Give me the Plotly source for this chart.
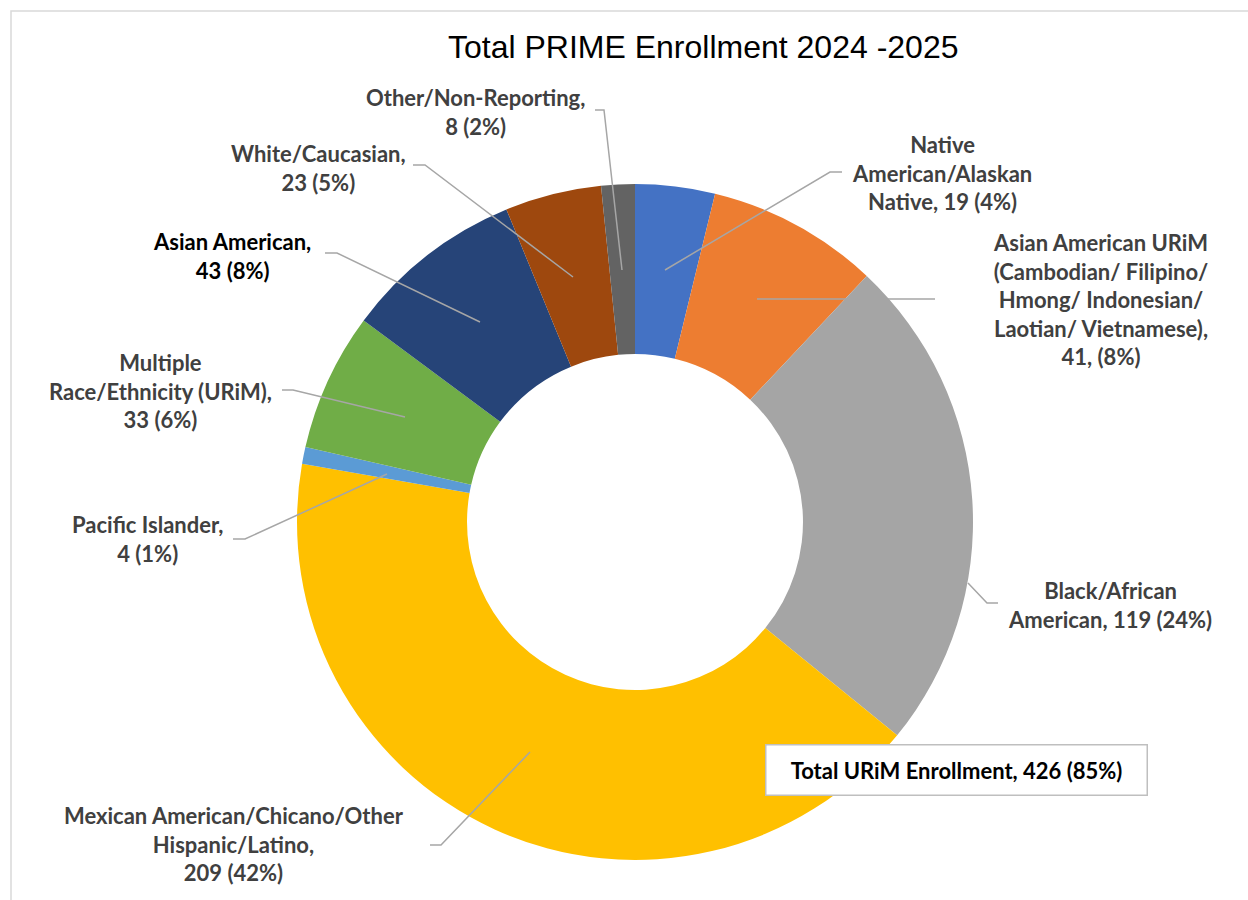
import plotly.graph_objects as go

W, H = 1248, 900

# ---- data ----
categories = [
    "Native American/Alaskan Native",
    "Asian American URiM (Cambodian/ Filipino/ Hmong/ Indonesian/ Laotian/ Vietnamese)",
    "Black/African American",
    "Mexican American/Chicano/Other Hispanic/Latino",
    "Pacific Islander",
    "Multiple Race/Ethnicity (URiM)",
    "Asian American",
    "White/Caucasian",
    "Other/Non-Reporting",
]
values = [19, 41, 119, 209, 4, 33, 43, 23, 8]
percents = [4, 8, 24, 42, 1, 6, 8, 5, 2]
label_names = [
    "Native<br>American/Alaskan<br>Native",
    "Asian American URiM<br>(Cambodian/ Filipino/<br>Hmong/ Indonesian/<br>Laotian/ Vietnamese)",
    "Black/African<br>American",
    "Mexican American/Chicano/Other<br>Hispanic/Latino",
    "Pacific Islander",
    "Multiple<br>Race/Ethnicity (URiM)",
    "Asian American",
    "White/Caucasian",
    "Other/Non-Reporting",
]
label_seps = [", ", ",<br>", ", ", ",<br>", ",<br>", ",<br>", ",<br>", ",<br>", ",<br>"]
value_formats = ["{v} ({p}%)", "{v}, ({p}%)", "{v} ({p}%)", "{v} ({p}%)", "{v} ({p}%)",
                 "{v} ({p}%)", "{v} ({p}%)", "{v} ({p}%)", "{v} ({p}%)"]
urim_total = 426
urim_pct = 85
title_text = "Total PRIME Enrollment 2024 -2025"

# ---- styles / layout ----
colors = ["#4472C4", "#ED7D31", "#A5A5A5", "#FFC000", "#5B9BD5",
          "#70AD47", "#264478", "#9E480E", "#636363"]
label_colors = ["#404040"] * 6 + ["#000000", "#404040", "#404040"]
# label block centres in pixels
label_pos = [(942, 173), (1100, 300), (1110, 605), (234, 844), (147, 539),
             (160, 391), (232, 256), (318, 168), (475, 112)]
# leader lines in pixels
leaders = [
    [(842, 172), (830, 172), (665, 270)],
    [(935, 299), (757, 299)],
    [(998, 603), (987, 603), (968, 583)],
    [(430, 845), (441, 845), (530, 752)],
    [(233, 539), (245, 539), (387, 474)],
    [(282, 390), (293, 390), (405, 417)],
    [(325, 253), (337, 253), (480, 322)],
    [(413, 165), (425, 165), (573, 277)],
    [(595, 110), (604, 110), (622, 270)],
]
pie_cx, pie_cy, pie_r = 635, 522, 338


def px(x):
    return x / W


def py(y):
    return 1 - y / H


fig = go.Figure(go.Pie(
    labels=categories,
    values=values,
    sort=False,
    direction="clockwise",
    rotation=0,
    hole=0.497,
    marker=dict(colors=colors, line=dict(color="white", width=0)),
    textinfo="none",
    hoverinfo="label+value",
    showlegend=False,
    domain=dict(x=[px(pie_cx - pie_r), px(pie_cx + pie_r)],
                y=[py(pie_cy + pie_r), py(pie_cy - pie_r)]),
))

label_font = "Lato, 'Open Sans', sans-serif"
annotations = []
for name, sep, fmt, v, p, (cx, cy), col in zip(label_names, label_seps, value_formats,
                                               values, percents, label_pos, label_colors):
    txt = name + sep + fmt.format(v=v, p=p)
    annotations.append(dict(
        x=px(cx), y=py(cy), xref="paper", yref="paper",
        xanchor="center", yanchor="middle", align="center",
        text="<b>" + txt + "</b>", showarrow=False,
        font=dict(family=label_font, size=22, color=col),
    ))

annotations.append(dict(
    x=px(956), y=py(770), xref="paper", yref="paper",
    xanchor="center", yanchor="middle", align="center",
    text=f"<b>Total URiM Enrollment, {urim_total} ({urim_pct}%)</b>",
    showarrow=False, width=372, height=41,
    bgcolor="white", bordercolor="#BFBFBF", borderwidth=1.5, borderpad=4,
    font=dict(family=label_font, size=22, color="#000000"),
))

annotations.append(dict(
    x=px(703), y=py(47), xref="paper", yref="paper",
    xanchor="center", yanchor="middle",
    text=title_text, showarrow=False,
    font=dict(family="'Liberation Sans', Arial, sans-serif", size=32, color="#000000"),
))

shapes = [dict(type="rect", xref="paper", yref="paper",
               x0=px(11), y0=py(905), x1=px(1260), y1=py(11),
               line=dict(color="#D9D9D9", width=1.5), layer="below")]
for pts in leaders:
    path = "M " + " L ".join(f"{px(x)},{py(y)}" for x, y in pts)
    shapes.append(dict(type="path", xref="paper", yref="paper", path=path,
                       line=dict(color="#A6A6A6", width=1.5)))

fig.update_layout(
    width=W, height=H,
    margin=dict(l=0, r=0, t=0, b=0),
    paper_bgcolor="white", plot_bgcolor="white",
    annotations=annotations, shapes=shapes,
)

fig.write_html("out.html", config={"displayModeBar": False},
               post_script="document.body.style.margin='0';document.body.style.overflow='hidden';")
